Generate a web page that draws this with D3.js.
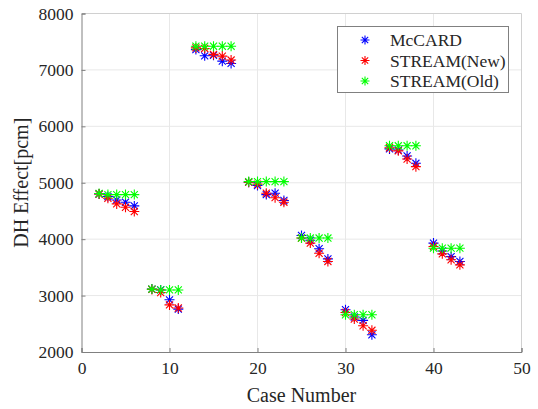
<!DOCTYPE html>
<html>
<head>
<meta charset="utf-8">
<script src="https://cdn.jsdelivr.net/npm/d3@7"></script>
<style>
  body { margin: 0; background: #fff; }
  svg { display: block; }
</style>
</head>
<body>
<svg id="chart" width="538" height="409"></svg>
<script>
// case numbers
const cases = [2, 3, 4, 5, 6, 8, 9, 10, 11, 13, 14, 15, 16, 17, 19, 20, 21, 22, 23,
  25, 26, 27, 28, 30, 31, 32, 33, 35, 36, 37, 38, 40, 41, 42, 43];

// DH effect [pcm]
const mccard = [4800, 4755, 4695, 4655, 4590, 3115, 3100, 2925, 2760,
  7360, 7250, 7260, 7155, 7115, 5010, 4950, 4790, 4815, 4685,
  4065, 3980, 3830, 3650, 2750, 2620, 2560, 2305,
  5600, 5580, 5475, 5345, 3930, 3790, 3690, 3605];
const streamNew = [4800, 4725, 4625, 4565, 4490, 3110, 3055, 2835, 2780,
  7390, 7380, 7275, 7245, 7175, 5010, 4975, 4815, 4735, 4655,
  4020, 3930, 3750, 3605, 2700, 2585, 2465, 2385,
  5620, 5565, 5420, 5285, 3870, 3740, 3635, 3545];
const streamOld = [4810, 4790, 4790, 4790, 4790, 3115, 3100, 3100, 3100,
  7420, 7420, 7420, 7420, 7420, 5020, 5020, 5020, 5020, 5020,
  4020, 4020, 4020, 4020, 2660, 2660, 2660, 2660,
  5655, 5655, 5655, 5655, 3840, 3840, 3840, 3840];

const seriesNames = ['McCARD', 'STREAM(New)', 'STREAM(Old)'];
const seriesColors = ['#0000ff', '#ff0000', '#00ff00'];
const xTicks = [0, 10, 20, 30, 40, 50];
const yTicks = [2000, 3000, 4000, 5000, 6000, 7000, 8000];

const FONT = '"Liberation Serif"';
const svg = d3.select('#chart');
const margin = { left: 81.5, right: 16.5, top: 13.5, bottom: 57 };
const W = 538, H = 409;

const x = d3.scaleLinear().domain([0, 50]).range([margin.left, W - margin.right]);
const y = d3.scaleLinear().domain([2000, 8000]).range([H - margin.bottom, margin.top]);

// grid
svg.append('g')
  .selectAll('line')
  .data(xTicks.slice(1, -1))
  .join('line')
  .attr('x1', d => x(d)).attr('x2', d => x(d))
  .attr('y1', y(2000)).attr('y2', y(8000))
  .attr('stroke', '#e8e8e8');
svg.append('g')
  .selectAll('line')
  .data(yTicks.slice(1, -1))
  .join('line')
  .attr('x1', x(0)).attr('x2', x(50))
  .attr('y1', d => y(d)).attr('y2', d => y(d))
  .attr('stroke', '#e8e8e8');

// box
svg.append('line').attr('x1', x(0)).attr('x2', x(50)).attr('y1', y(8000)).attr('y2', y(8000)).attr('stroke', '#d0d0d0');
svg.append('line').attr('x1', x(50)).attr('x2', x(50)).attr('y1', y(2000)).attr('y2', y(8000)).attr('stroke', '#d0d0d0');

// axes
const fmt = d3.format('d');
const xAxis = d3.axisBottom(x).tickValues(xTicks).tickFormat(fmt).tickSize(-4).tickPadding(10);
const yAxis = d3.axisLeft(y).tickValues(yTicks).tickFormat(fmt).tickSize(-4).tickPadding(8);

const gx = svg.append('g').attr('transform', `translate(0,${y(2000)})`).call(xAxis);
const gy = svg.append('g').attr('transform', `translate(${x(0)},0)`).call(yAxis);
[gx, gy].forEach(g => {
  g.attr('font-family', null).attr('font-size', null);
  g.select('.domain').attr('stroke', '#808080');
  g.selectAll('.tick line').attr('stroke', '#808080');
  g.selectAll('.tick text')
    .style('font-family', FONT)
    .attr('font-size', 17.5)
    .attr('fill', '#262626');
});

// axis labels
svg.append('text')
  .attr('x', (x(0) + x(50)) / 2).attr('y', 402)
  .attr('text-anchor', 'middle')
  .style('font-family', FONT).attr('font-size', 20).attr('fill', '#262626')
  .text('Case Number');
svg.append('text')
  .attr('transform', `translate(28,${(y(2000) + y(8000)) / 2}) rotate(-90)`)
  .attr('text-anchor', 'middle')
  .style('font-family', FONT).attr('font-size', 20).attr('fill', '#262626')
  .text('DH Effect[pcm]');

// asterisk marker
function star(g, cx, cy, r, color) {
  const d = [0, 45, 90, 135].map(a => {
    const t = a * Math.PI / 180;
    const dx = r * Math.cos(t), dy = r * Math.sin(t);
    return `M${cx - dx},${cy - dy}L${cx + dx},${cy + dy}`;
  }).join('');
  g.append('path').attr('d', d).attr('stroke', color).attr('stroke-width', 1.1).attr('fill', 'none');
}

const allSeries = [mccard, streamNew, streamOld];
allSeries.forEach((vals, i) => {
  const g = svg.append('g');
  vals.forEach((v, j) => star(g, x(cases[j]), y(v), 5, seriesColors[i]));
});

// legend
const lg = svg.append('g');
lg.append('rect')
  .attr('x', 337.5).attr('y', 26.5).attr('width', 171).attr('height', 66)
  .attr('fill', '#fff').attr('stroke', '#808080');
seriesNames.forEach((name, i) => {
  const ly = 40 + i * 20.5;
  star(lg, 365, ly, 4.5, seriesColors[i]);
  lg.append('text')
    .attr('x', 390).attr('y', ly + 6)
    .style('font-family', FONT).attr('font-size', 17.5).attr('fill', '#262626')
    .text(name);
});
</script>
</body>
</html>
